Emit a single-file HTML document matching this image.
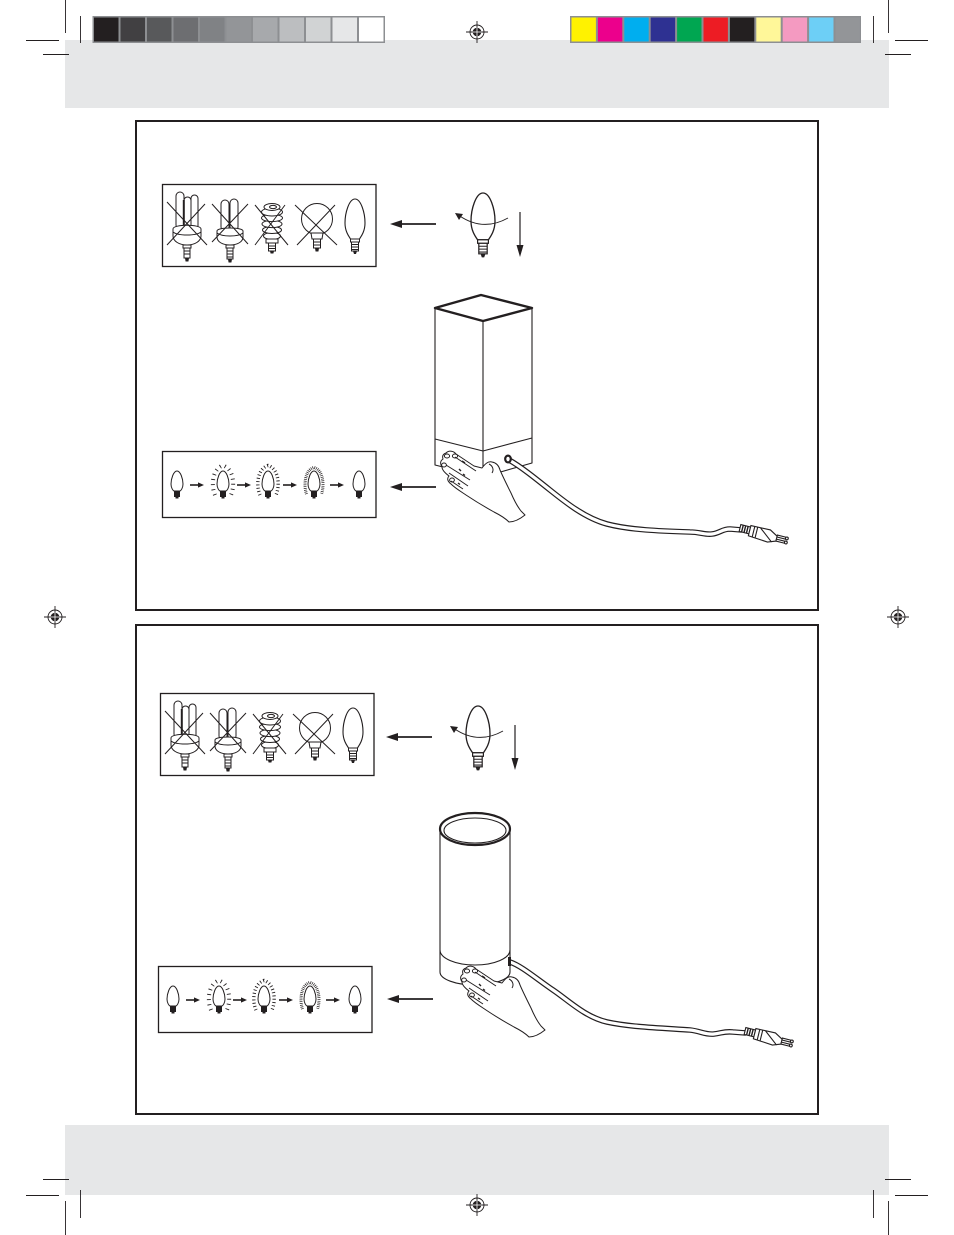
<!DOCTYPE html>
<html>
<head>
<meta charset="utf-8">
<style>
html,body{margin:0;padding:0;background:#fff;}
svg{display:block;}
</style>
</head>
<body>
<svg width="954" height="1235" viewBox="0 0 954 1235" xmlns="http://www.w3.org/2000/svg">
<defs>
  <g id="cd">
    <path d="M0,0 C6,0 10,14 10,24 C10,32 6.5,37 4.5,40 L-4.5,40 C-6.5,37 -10,32 -10,24 C-10,14 -6,0 0,0 Z" fill="#fff" stroke="#231f20" stroke-width="1.1"/>
    <rect x="-4.5" y="40" width="9" height="3" fill="#fff" stroke="#231f20" stroke-width="1"/>
    <rect x="-3.5" y="43" width="7" height="9" fill="#fff" stroke="#231f20" stroke-width="1"/>
    <path d="M-3.5,45.5h7M-3.5,48h7M-3.5,50.5h7" stroke="#231f20" stroke-width="0.9"/>
    <path d="M-2,52 L2,52 L1,55 L-1,55Z" fill="#231f20"/>
  </g>
  <g id="sc">
    <path d="M0,0 C3.5,0 6,8 6,13 C6,17 4,19.5 3,20 L-3,20 C-4,19.5 -6,17 -6,13 C-6,8 -3.5,0 0,0 Z" fill="#fff" stroke="#231f20" stroke-width="1"/>
    <rect x="-3" y="20" width="6" height="6" fill="#231f20"/>
    <rect x="-1.5" y="26" width="3" height="1.5" fill="#231f20"/>
  </g>
  <path id="halo" d="M-8,24 C-12,15 -11,-2 0,-5.5 C11,-2 12,15 8,24" fill="none"/>
  <g id="sa">
    <line x1="0" y1="0" x2="9" y2="0" stroke="#231f20" stroke-width="1.6"/>
    <polygon points="8,-2.6 14,0 8,2.6" fill="#231f20"/>
  </g>
  <g id="larr">
    <line x1="399" y1="0" x2="436" y2="0" stroke="#231f20" stroke-width="1.8"/>
    <polygon points="390,0 402,-4 402,4" fill="#231f20"/>
  </g>
  <g id="reg">
    <circle r="7" fill="#fff" stroke="#231f20" stroke-width="0.9"/>
    <line x1="-11" y1="0" x2="11" y2="0" stroke="#231f20" stroke-width="0.9"/>
    <line x1="0" y1="-11" x2="0" y2="11" stroke="#231f20" stroke-width="0.9"/>
    <circle r="4.3" fill="#231f20"/>
    <line x1="-4.3" y1="0" x2="4.3" y2="0" stroke="#fff" stroke-width="0.8"/>
    <line x1="0" y1="-4.3" x2="0" y2="4.3" stroke="#fff" stroke-width="0.8"/>
  </g>
  <g id="plug" stroke="#231f20" stroke-width="1.1" fill="#fff">
    <rect x="0" y="-3.5" width="10" height="7"/>
    <path d="M2.5,-3.5v7M5,-3.5v7M7.5,-3.5v7" stroke-width="1.4" fill="none"/>
    <path d="M10,-5 L30,-5.5 L38,-1 L38,4 L30,7 L10,5.5 Z"/>
    <path d="M14,-5 v10.5 M17,-5 v10.5 M20,-5 L34,6" fill="none"/>
    <rect x="38" y="-2.2" width="9" height="2"/>
    <rect x="38" y="2" width="9" height="2"/>
    <circle cx="48" cy="-1.2" r="1.4"/>
    <circle cx="48" cy="3" r="1.4"/>
  </g>
  <g id="hand" stroke="#231f20" stroke-width="1" fill="#fff" stroke-linejoin="round">
    <path d="M446,453 C449,450 454,451 456,454 L474,466 L482,468 C485,464 488,461 492,462 C497,463 499,466 500,470 C503,477 507,485 511,493 C514,500 517,506 521,511 L525,515 C520,519 514,522 509,522 C505,518 500,515 494,512 C485,507 475,501 466,495 C460,491 455,488 451,484 C447,481 447,478 449,476 C445,473 442,470 442,467 C440,464 440,461 443,459 C442,456 443,454 446,453 Z"/>
    <path d="M455,457 L476,471 M446,465 L470,480 M449,473 L468,486 M451,481 L463,489 M489,464 C493,466 494,470 492,473" fill="none"/>
    <ellipse cx="447" cy="456" rx="2.6" ry="2" fill="none"/>
    <ellipse cx="455" cy="456" rx="2.6" ry="2" fill="none"/>
    <ellipse cx="444" cy="465" rx="2.4" ry="2" fill="none"/>
    <ellipse cx="452" cy="480" rx="2.4" ry="2" fill="none"/>
    <path d="M462,461 l3,2 M459,469 l2,2 M463,474 l2,1.5 M458,483 l2,1.5" stroke-width="1.4" fill="none"/>
  </g>
  <g id="row1">
    <rect x="162.5" y="184.5" width="213.5" height="82" fill="none" stroke="#231f20" stroke-width="1.3"/>
    <g stroke="#231f20" stroke-width="1" fill="#fff">
      <rect x="191" y="195" width="7" height="34" rx="3.5"/>
      <rect x="176" y="192" width="8" height="37" rx="4"/>
      <rect x="184" y="197" width="7" height="32" rx="3.5"/>
      <line x1="183.8" y1="200" x2="183.8" y2="228" stroke-width="2"/>
      <path d="M173,229 C173,224 201,224 201,229 L201,236 C201,241 195,245 187,245 C179,245 173,241 173,236 Z"/>
      <path d="M173,232 C178,236 196,236 201,232" fill="none"/>
      <rect x="183" y="245" width="8" height="3"/>
      <rect x="184" y="248" width="6" height="10"/>
      <path d="M184,251h6M184,254h6" fill="none"/>
      <path d="M185.5,258h3l-0.5,3h-2z" fill="#231f20"/>
      <path d="M167,202 L207,245 M167,245 L205,204" fill="none"/>
      <rect x="221" y="200" width="8" height="31" rx="4"/>
      <rect x="230" y="199" width="8" height="32" rx="4"/>
      <path d="M217,231 C217,227 243,227 243,231 L243,237 C243,242 237,245 230,245 C223,245 217,242 217,237 Z"/>
      <path d="M217,233 C222,237 238,237 243,233" fill="none"/>
      <rect x="226" y="245" width="8" height="3"/>
      <rect x="227" y="248" width="6" height="11"/>
      <path d="M227,251h6M227,254h6M227,257h6" fill="none"/>
      <path d="M228.5,259h3l-0.5,3h-2z" fill="#231f20"/>
      <path d="M212,204 L248,244 M212,242 L248,204" fill="none"/>
      <ellipse cx="272" cy="236" rx="8.5" ry="3.5"/>
      <ellipse cx="272" cy="230" rx="9.5" ry="3.5"/>
      <ellipse cx="272" cy="224" rx="10" ry="3.6"/>
      <ellipse cx="272" cy="218" rx="10.5" ry="3.6"/>
      <ellipse cx="272" cy="212" rx="10.5" ry="4"/>
      <ellipse cx="272" cy="207" rx="8" ry="3.5"/>
      <ellipse cx="273" cy="207" rx="3.5" ry="1.6"/>
      <rect x="266" y="239" width="12" height="4"/>
      <rect x="268.5" y="243" width="7" height="8"/>
      <path d="M268.5,246h7M268.5,248.5h7" fill="none"/>
      <path d="M270.5,251h3l-0.5,2h-2z" fill="#231f20"/>
      <path d="M255,205 L288,245 M255,245 L285,205" fill="none"/>
      <circle cx="317" cy="219" r="15.5"/>
      <path d="M311,233 L323,233 L322,239 L312,239 Z"/>
      <rect x="313.5" y="239" width="7" height="9"/>
      <path d="M313.5,242h7M313.5,245h7" fill="none"/>
      <path d="M315.5,248h3l-0.5,3h-2z" fill="#231f20"/>
      <path d="M295,205 L337,245 M297,245 L335,205" fill="none"/>
    </g>
    <use href="#cd" transform="translate(355,199)"/>
  </g>
  <g id="seq">
    <rect x="162.5" y="451.5" width="213.5" height="66" fill="none" stroke="#231f20" stroke-width="1.3"/>
    <use href="#sc" transform="translate(177,471)"/>
    <g transform="translate(223,471)">
      <use href="#halo" stroke="#231f20" stroke-width="4" stroke-dasharray="0.9 4.2"/>
      <use href="#sc"/>
    </g>
    <g transform="translate(268,471)">
      <use href="#halo" stroke="#231f20" stroke-width="3.4" stroke-dasharray="0.9 2.4"/>
      <use href="#sc"/>
    </g>
    <g transform="translate(314,471)">
      <path d="M-7.5,23 C-10.5,15 -9.5,-1 0,-3.5 C9.5,-1 10.5,15 7.5,23" fill="none" stroke="#231f20" stroke-width="3" stroke-dasharray="0.7 1.1"/>
      <use href="#sc"/>
    </g>
    <use href="#sc" transform="translate(359,471)"/>
    <use href="#sa" transform="translate(190,485)"/>
    <use href="#sa" transform="translate(237,485)"/>
    <use href="#sa" transform="translate(283,485)"/>
    <use href="#sa" transform="translate(330,485)"/>
  </g>
  <g id="rc">
    <use href="#cd" transform="translate(483,193) scale(1.2,1.17)"/>
    <path d="M508,218 Q483,232 459,215.5" fill="none" stroke="#231f20" stroke-width="1"/>
    <polygon points="455,213 463,214 459,220" fill="#231f20"/>
    <line x1="520" y1="212" x2="520" y2="246" stroke="#231f20" stroke-width="1.2"/>
    <polygon points="516.5,245 523.5,245 520,257" fill="#231f20"/>
  </g>
  <path id="cord1" d="M509,460 C520,466 535,478 550,490 C565,502 585,518 607,524 C630,530 660,531 690,532 C700,532 705,535 712,534 C720,533 722,529 730,529 L742,530" fill="none"/>
  <path id="cord2" d="M510,962 C522,966 538,980 553,990 C568,1000 585,1017 607,1022 C630,1027 660,1028 690,1030 C700,1031 706,1035 714,1034 C722,1033 725,1031 733,1032 L746,1033" fill="none"/>
</defs>

<rect x="0" y="0" width="954" height="1235" fill="#fff"/>

<rect x="65" y="40" width="824" height="68" fill="#e6e7e8"/>
<rect x="65" y="1125" width="824" height="70" fill="#e6e7e8"/>

<rect x="92.5" y="16" width="292.5" height="27" fill="#8d8f92"/>
<g>
  <rect x="94" y="17.5" width="24.5" height="24" fill="#231f20"/>
  <rect x="120.5" y="17.5" width="24.5" height="24" fill="#414042"/>
  <rect x="147" y="17.5" width="24.5" height="24" fill="#58595b"/>
  <rect x="173.5" y="17.5" width="24.5" height="24" fill="#6d6e71"/>
  <rect x="200" y="17.5" width="24.5" height="24" fill="#808285"/>
  <rect x="226.5" y="17.5" width="24.5" height="24" fill="#939598"/>
  <rect x="253" y="17.5" width="24.5" height="24" fill="#a7a9ac"/>
  <rect x="279.5" y="17.5" width="24.5" height="24" fill="#bcbec0"/>
  <rect x="306" y="17.5" width="24.5" height="24" fill="#d1d3d4"/>
  <rect x="332.5" y="17.5" width="24.5" height="24" fill="#e6e7e8"/>
  <rect x="359" y="17.5" width="24.5" height="24" fill="#ffffff"/>
</g>
<rect x="570" y="16" width="291" height="27" fill="#8d8f92"/>
<g>
  <rect x="571.5" y="17.5" width="24.4" height="24" fill="#fff200"/>
  <rect x="597.9" y="17.5" width="24.4" height="24" fill="#ec008c"/>
  <rect x="624.3" y="17.5" width="24.4" height="24" fill="#00aeef"/>
  <rect x="650.7" y="17.5" width="24.4" height="24" fill="#2e3192"/>
  <rect x="677.1" y="17.5" width="24.4" height="24" fill="#00a651"/>
  <rect x="703.5" y="17.5" width="24.4" height="24" fill="#ed1c24"/>
  <rect x="729.9" y="17.5" width="24.4" height="24" fill="#231f20"/>
  <rect x="756.3" y="17.5" width="24.4" height="24" fill="#fff799"/>
  <rect x="782.7" y="17.5" width="24.4" height="24" fill="#f49ac1"/>
  <rect x="809.1" y="17.5" width="24.4" height="24" fill="#6dcff6"/>
  <rect x="835.5" y="17.5" width="24.4" height="24" fill="#939598"/>
</g>

<g stroke="#231f20" stroke-width="0.9">
  <line x1="65.5" y1="0" x2="65.5" y2="33"/>
  <line x1="80.5" y1="16" x2="80.5" y2="43"/>
  <line x1="26" y1="40.5" x2="59" y2="40.5"/>
  <line x1="43" y1="54.5" x2="69" y2="54.5"/>
  <line x1="888.5" y1="0" x2="888.5" y2="33"/>
  <line x1="873.5" y1="16" x2="873.5" y2="43"/>
  <line x1="895" y1="40.5" x2="928" y2="40.5"/>
  <line x1="885" y1="54.5" x2="911" y2="54.5"/>
  <line x1="43" y1="1179.5" x2="69" y2="1179.5"/>
  <line x1="26" y1="1195.5" x2="59" y2="1195.5"/>
  <line x1="80.5" y1="1190" x2="80.5" y2="1218"/>
  <line x1="65.5" y1="1201" x2="65.5" y2="1235"/>
  <line x1="885" y1="1179.5" x2="911" y2="1179.5"/>
  <line x1="895" y1="1195.5" x2="928" y2="1195.5"/>
  <line x1="873.5" y1="1190" x2="873.5" y2="1218"/>
  <line x1="888.5" y1="1201" x2="888.5" y2="1235"/>
</g>

<use href="#reg" transform="translate(477,32)"/>
<use href="#reg" transform="translate(55,617)"/>
<use href="#reg" transform="translate(898,617)"/>
<use href="#reg" transform="translate(477,1205)"/>

<rect x="136" y="121" width="682" height="489" fill="none" stroke="#231f20" stroke-width="2"/>
<rect x="136" y="625" width="682" height="489" fill="none" stroke="#231f20" stroke-width="2"/>

<!-- TOP PANEL -->
<use href="#row1"/>
<use href="#larr" transform="translate(0,224)"/>
<use href="#rc"/>
<use href="#seq"/>
<use href="#larr" transform="translate(0,487)"/>

<g stroke="#231f20" fill="none" stroke-width="1.1" stroke-linejoin="round">
  <path d="M435,308 L435,465 L483,477 L532,463 L532,308" fill="#fff"/>
  <line x1="483" y1="321" x2="483" y2="477"/>
  <path d="M435,439 L483,451 L532,438"/>
  <path d="M435,308 L481,295 L532,308 L483,321 Z" stroke-width="2.4"/>
</g>
<use href="#cord1" stroke="#231f20" stroke-width="5.6"/>
<use href="#cord1" stroke="#fff" stroke-width="3.2"/>
<ellipse cx="508" cy="459" rx="2.8" ry="3.4" fill="#fff" stroke="#231f20" stroke-width="2.2"/>
<use href="#plug" transform="translate(740,528) rotate(14)"/>
<use href="#hand"/>

<!-- BOTTOM PANEL -->
<use href="#row1" transform="translate(-2,509)"/>
<use href="#larr" transform="translate(-4,737)"/>
<use href="#rc" transform="translate(-5,513)"/>
<use href="#seq" transform="translate(-4,515)"/>
<use href="#larr" transform="translate(-3,999)"/>

<g stroke="#231f20" fill="none" stroke-width="1.1">
  <path d="M440,829 L440,972 A35,13 0 0 0 510,972 L510,829 Z" fill="#fff"/>
  <path d="M440,950 A35,15 0 0 0 510,950"/>
  <ellipse cx="475" cy="829" rx="35" ry="16" fill="#fff" stroke-width="2.2"/>
  <ellipse cx="475" cy="830.5" rx="31" ry="12.5"/>
</g>
<use href="#cord2" stroke="#231f20" stroke-width="5.6"/>
<use href="#cord2" stroke="#fff" stroke-width="3.2"/>
<rect x="508" y="957" width="3" height="9" fill="#231f20"/>
<use href="#plug" transform="translate(745,1031) rotate(14)"/>
<use href="#hand" transform="translate(20,515)"/>

</svg>
</body>
</html>
